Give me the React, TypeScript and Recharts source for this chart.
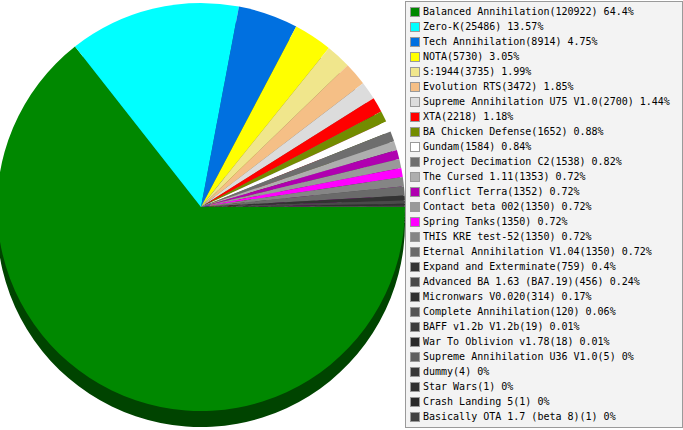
import { Cell, Legend, Pie, PieChart } from "recharts";

const names = [
  "Balanced Annihilation",
  "Zero-K",
  "Tech Annihilation",
  "NOTA",
  "S:1944",
  "Evolution RTS",
  "Supreme Annihilation U75 V1.0",
  "XTA",
  "BA Chicken Defense",
  "Gundam",
  "Project Decimation C2",
  "The Cursed 1.11",
  "Conflict Terra",
  "Contact beta 002",
  "Spring Tanks",
  "THIS KRE test-52",
  "Eternal Annihilation V1.04",
  "Expand and Exterminate",
  "Advanced BA 1.63 (BA7.19)",
  "Micronwars V0.020",
  "Complete Annihilation",
  "BAFF v1.2b V1.2b",
  "War To Oblivion v1.78",
  "Supreme Annihilation U36 V1.0",
  "dummy",
  "Star Wars",
  "Crash Landing 5",
  "Basically OTA 1.7 (beta 8)",
];

const games = [
  120922, 25486, 8914, 5730, 3735, 3472, 2700, 2218, 1652, 1584, 1538, 1353,
  1352, 1350, 1350, 1350, 1350, 759, 456, 314, 120, 19, 18, 5, 4, 1, 1, 1,
];

const colors = [
  "#008800", "#00ffff", "#0070e0", "#ffff00", "#f0e68c", "#f5bf86", "#dcdcdc",
  "#ff0000", "#738c00", "#ffffff", "#6e6e6e", "#aeaeae", "#b000b0", "#999999",
  "#ff00ff", "#858585", "#6a6a6a", "#333333", "#4a4a4a", "#303030", "#555555",
  "#3c3c3c", "#2a2a2a", "#606060", "#383838", "#303030", "#282828", "#404040",
];

const total = games.reduce((a, b) => a + b, 0);
const data = names.map((name, i) => ({ name, value: games[i] }));

// darker shade for the extruded side of the pie
function darken(hex: string) {
  const n = parseInt(hex.slice(1), 16);
  const r = Math.round(((n >> 16) & 255) * 0.5);
  const g = Math.round(((n >> 8) & 255) * 0.5);
  const b = Math.round((n & 255) * 0.5);
  return `rgb(${r},${g},${b})`;
}

function LegendBox() {
  return (
    <div
      style={{
        width: 278,
        height: 427,
        background: "#f3f3f3",
        border: "1px solid #9a9a9a",
        fontFamily: "'DejaVu Sans Mono', monospace",
        fontSize: 10,
        color: "#000",
        boxSizing: "border-box",
        paddingTop: 2,
      }}
    >
      {names.map((name, i) => (
        <div
          key={name}
          style={{ display: "flex", alignItems: "center", height: 15, paddingLeft: 4 }}
        >
          <span
            style={{
              display: "inline-block",
              width: 8,
              height: 8,
              background: colors[i],
              border: "1px solid #999",
              marginRight: 3,
            }}
          />
          <span style={{ whiteSpace: "pre" }}>
            {`${name}(${games[i]}) ${Math.round((games[i] / total) * 10000) / 100}%`}
          </span>
        </div>
      ))}
    </div>
  );
}

export default function App() {
  return (
    <div style={{ position: "fixed", left: 0, top: 0, background: "#fff" }}>
      <PieChart width={683} height={430} margin={{ top: 0, right: 0, bottom: 0, left: 0 }}>
        <Pie
          data={data}
          dataKey="value"
          cx={201}
          cy={223}
          outerRadius={204}
          startAngle={0}
          endAngle={-360}
          stroke="none"
          isAnimationActive={false}
          legendType="none"
        >
          {data.map((d, i) => (
            <Cell key={d.name} fill={darken(colors[i])} />
          ))}
        </Pie>
        <Pie
          data={data}
          dataKey="value"
          cx={201}
          cy={207}
          outerRadius={204}
          startAngle={0}
          endAngle={-360}
          stroke="none"
          isAnimationActive={false}
        >
          {data.map((d, i) => (
            <Cell key={d.name} fill={colors[i]} />
          ))}
        </Pie>
        <Legend
          content={() => <LegendBox />}
          wrapperStyle={{ left: 405, top: 1, width: 278, height: 427 }}
        />
      </PieChart>
    </div>
  );
}
